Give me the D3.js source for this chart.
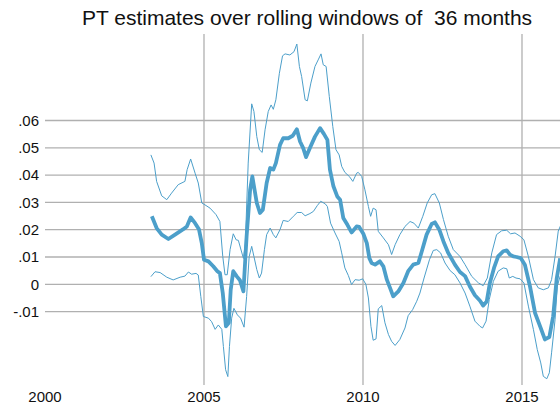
<!DOCTYPE html>
<html>
<head>
<meta charset="utf-8">
<script src="https://cdn.jsdelivr.net/npm/d3@7"></script>
<style>
    body { margin: 0; background: #fff; }
    svg { display: block; font-family: "Liberation Sans", Arial, sans-serif; }
</style>
</head>
<body>
<div id="chart"></div>
<script>
// Chart text and tick values
const titleText = "PT estimates over rolling windows of  36 months";
const xTicks = [2000, 2005, 2010, 2015];
const xGridYears = [2005, 2010, 2015];
const yTicks = [-0.01, 0, 0.01, 0.02, 0.03, 0.04, 0.05, 0.06];
const yTickLabels = ["-.01", "0", ".01", ".02", ".03", ".04", ".05", ".06"];

// Point estimate (thick line), [year, value]
const ptEstimate = [
    [2003.36, .0249], [2003.51, .0206], [2003.67, .0182], [2003.88, .0166], [2004.09, .0182],
    [2004.35, .0202], [2004.46, .0212], [2004.58, .0245], [2004.72, .0224], [2004.84, .0202],
    [2004.93, .0151], [2005.00, .0090], [2005.14, .0084], [2005.29, .0066], [2005.42, .0048],
    [2005.50, .0041], [2005.59, -.0032], [2005.69, -.0154], [2005.78, -.0141], [2005.84, -.0020],
    [2005.92, .0048], [2006.03, .0029], [2006.13, .0015], [2006.24, -.0026], [2006.34, .0176],
    [2006.45, .0346], [2006.52, .0395], [2006.66, .0298], [2006.76, .0261], [2006.85, .0273],
    [2006.97, .0371], [2007.08, .0426], [2007.18, .0420], [2007.26, .0444], [2007.39, .0511],
    [2007.49, .0535], [2007.65, .0535], [2007.79, .0544], [2007.92, .0568], [2008.02, .0523],
    [2008.12, .0499], [2008.21, .0466], [2008.33, .0499], [2008.49, .0541], [2008.65, .0572],
    [2008.77, .0551], [2008.88, .0529], [2008.96, .0420], [2009.07, .0359], [2009.19, .0322],
    [2009.28, .0310], [2009.38, .0243], [2009.51, .0218], [2009.64, .0190], [2009.80, .0212],
    [2009.88, .0210], [2010.01, .0185], [2010.12, .0151], [2010.20, .0096], [2010.27, .0078],
    [2010.38, .0072], [2010.53, .0084], [2010.64, .0066], [2010.75, .0017], [2010.85, -.0013],
    [2010.95, -.0044], [2011.11, -.0026], [2011.27, .0005], [2011.42, .0048], [2011.58, .0072],
    [2011.74, .0078], [2011.85, .0121], [2012.00, .0182], [2012.16, .0221], [2012.26, .0227],
    [2012.40, .0200], [2012.53, .0157], [2012.68, .0115], [2012.89, .0072], [2013.05, .0045],
    [2013.21, .0030], [2013.36, -.0008], [2013.52, -.0040], [2013.68, -.0060], [2013.78, -.0078],
    [2013.89, -.0063], [2013.99, .0005], [2014.12, .0060], [2014.25, .0102], [2014.41, .0121],
    [2014.52, .0124], [2014.62, .0109], [2014.73, .0102], [2014.83, .0100], [2014.96, .0096],
    [2015.09, .0072], [2015.25, -.0007], [2015.41, -.0105], [2015.57, -.0154], [2015.72, -.0202],
    [2015.86, -.0193], [2015.98, -.0117], [2016.09, .0020], [2016.20, .0095]
];

// Upper band (thin line)
const upperBand = [
    [2003.33, .0474], [2003.43, .0444], [2003.51, .0377], [2003.67, .0324], [2003.83, .0310],
    [2003.98, .0334], [2004.19, .0365], [2004.40, .0377], [2004.47, .0420], [2004.58, .0459],
    [2004.72, .0407], [2004.82, .0371], [2004.93, .0298], [2005.03, .0291], [2005.19, .0279],
    [2005.38, .0255], [2005.50, .0230], [2005.59, .0102], [2005.66, .0035], [2005.73, .0035],
    [2005.82, .0127], [2005.92, .0185], [2006.01, .0163], [2006.08, .0161], [2006.24, .0095],
    [2006.30, .0151], [2006.39, .0444], [2006.50, .0661], [2006.57, .0633], [2006.66, .0541],
    [2006.74, .0493], [2006.83, .0483], [2006.92, .0566], [2007.02, .0633], [2007.11, .0657],
    [2007.18, .0641], [2007.26, .0676], [2007.37, .0773], [2007.47, .0837], [2007.55, .0844],
    [2007.70, .0840], [2007.83, .0852], [2007.92, .0880], [2008.00, .0798], [2008.07, .0761],
    [2008.18, .0676], [2008.25, .0672], [2008.36, .0737], [2008.49, .0798], [2008.59, .0822],
    [2008.68, .0844], [2008.75, .0804], [2008.84, .0798], [2008.94, .0688], [2009.05, .0578],
    [2009.15, .0493], [2009.25, .0474], [2009.33, .0432], [2009.43, .0410], [2009.57, .0395],
    [2009.68, .0377], [2009.80, .0407], [2009.85, .0410], [2009.96, .0395], [2010.06, .0346],
    [2010.17, .0285], [2010.24, .0249], [2010.32, .0279], [2010.41, .0273], [2010.48, .0194],
    [2010.64, .0170], [2010.80, .0145], [2010.90, .0109], [2011.01, .0145], [2011.16, .0182],
    [2011.32, .0212], [2011.48, .0230], [2011.60, .0224], [2011.74, .0206], [2011.88, .0249],
    [2012.02, .0298], [2012.16, .0328], [2012.26, .0332], [2012.40, .0298], [2012.53, .0237],
    [2012.68, .0176], [2012.84, .0127], [2013.05, .0102], [2013.21, .0072], [2013.42, .0029],
    [2013.63, .0005], [2013.78, -.0005], [2013.91, .0023], [2014.05, .0115], [2014.20, .0182],
    [2014.36, .0196], [2014.52, .0198], [2014.64, .0185], [2014.78, .0188], [2014.94, .0176],
    [2015.06, .0163], [2015.20, .0102], [2015.36, .0017], [2015.51, -.0013], [2015.67, -.0020],
    [2015.83, -.0013], [2015.93, .0017], [2016.04, .0102], [2016.14, .0195], [2016.25, .0225]
];

// Lower band (thin line)
const lowerBand = [
    [2003.33, .0028], [2003.46, .0046], [2003.62, .0043], [2003.83, .0026], [2004.03, .0016],
    [2004.25, .0026], [2004.40, .0030], [2004.51, .0045], [2004.61, .0037], [2004.75, .0040],
    [2004.82, .0034], [2004.90, -.0045], [2004.98, -.0118], [2005.14, -.0124], [2005.24, -.0137],
    [2005.35, -.0165], [2005.45, -.0149], [2005.56, -.0165], [2005.61, -.0228], [2005.68, -.0313],
    [2005.75, -.0338], [2005.80, -.0228], [2005.87, -.0124], [2005.94, -.0088], [2006.05, -.0112],
    [2006.15, -.0124], [2006.26, -.0157], [2006.34, -.0045], [2006.42, .0101], [2006.50, .0139],
    [2006.57, .0102], [2006.66, .0054], [2006.74, .0023], [2006.81, .0041], [2006.90, .0127],
    [2006.97, .0182], [2007.08, .0206], [2007.18, .0182], [2007.26, .0170], [2007.39, .0200],
    [2007.49, .0234], [2007.65, .0230], [2007.81, .0249], [2007.93, .0263], [2008.07, .0263],
    [2008.18, .0251], [2008.33, .0259], [2008.44, .0267], [2008.56, .0288], [2008.67, .0304],
    [2008.81, .0295], [2008.88, .0285], [2008.98, .0224], [2009.12, .0188], [2009.25, .0157],
    [2009.33, .0115], [2009.43, .0060], [2009.54, .0032], [2009.64, -.0001], [2009.75, .0017],
    [2009.88, .0015], [2009.99, .0020], [2010.09, .0000], [2010.17, -.0050], [2010.25, -.0154],
    [2010.32, -.0205], [2010.41, -.0200], [2010.48, -.0090], [2010.59, -.0078], [2010.69, -.0141],
    [2010.80, -.0184], [2010.90, -.0209], [2011.01, -.0224], [2011.16, -.0202], [2011.32, -.0160],
    [2011.42, -.0115], [2011.56, -.0093], [2011.69, -.0062], [2011.79, -.0032], [2011.92, .0023],
    [2012.09, .0090], [2012.21, .0124], [2012.32, .0127], [2012.44, .0115], [2012.58, .0078],
    [2012.74, .0050], [2012.89, .0035], [2013.05, .0005], [2013.21, -.0032], [2013.36, -.0080],
    [2013.52, -.0135], [2013.68, -.0154], [2013.76, -.0160], [2013.87, -.0135], [2013.97, -.0056],
    [2014.10, .0011], [2014.25, .0048], [2014.41, .0060], [2014.52, .0057], [2014.60, .0023],
    [2014.71, .0029], [2014.81, .0023], [2014.94, .0020], [2015.06, .0005], [2015.20, -.0080],
    [2015.36, -.0166], [2015.48, -.0239], [2015.59, -.0288], [2015.67, -.0337], [2015.78, -.0346],
    [2015.86, -.0324], [2015.93, -.0251], [2016.04, -.0129], [2016.11, -.0007], [2016.20, .0030]
];

const width = 560, height = 409;
const lineColor = "#4c9fca";

const svg = d3.select("#chart")
    .append("svg")
    .attr("width", width)
    .attr("height", height);

svg.append("rect").attr("width", width).attr("height", height).attr("fill", "#fff");

// Scales (plot area: 2000 at x=45, 0 at y=284.3)
const x = d3.scaleLinear()
    .domain([2000, 2015])
    .range([45, 522]);
const y = d3.scaleLinear()
    .domain([-0.01, 0.06])
    .range([311.6, 120.5]);

// Horizontal grid + y labels
const yAxis = svg.append("g").attr("class", "y-grid");
yAxis.selectAll("line")
    .data(yTicks)
    .enter()
    .append("line")
    .attr("x1", 45)
    .attr("x2", width)
    .attr("y1", d => y(d))
    .attr("y2", d => y(d))
    .attr("stroke", "#b0b0b0")
    .attr("stroke-width", 1.3);
yAxis.selectAll("text")
    .data(yTicks)
    .enter()
    .append("text")
    .attr("x", 39)
    .attr("y", d => y(d))
    .attr("dy", "0.35em")
    .attr("text-anchor", "end")
    .attr("font-size", 15)
    .attr("fill", "#111")
    .text((d, i) => yTickLabels[i]);

// Vertical grid + x labels
const xAxis = svg.append("g").attr("class", "x-grid");
xAxis.selectAll("line")
    .data(xGridYears)
    .enter()
    .append("line")
    .attr("x1", d => x(d))
    .attr("x2", d => x(d))
    .attr("y1", 34)
    .attr("y2", 385)
    .attr("stroke", "#b0b0b0")
    .attr("stroke-width", 1.3);
xAxis.selectAll("text")
    .data(xTicks)
    .enter()
    .append("text")
    .attr("x", d => x(d))
    .attr("y", 402)
    .attr("text-anchor", "middle")
    .attr("font-size", 15)
    .attr("fill", "#111")
    .text(d => d);

// Lines
const line = d3.line()
    .x(d => x(d[0]))
    .y(d => y(d[1]));

svg.append("path")
    .datum(upperBand)
    .attr("fill", "none")
    .attr("stroke", lineColor)
    .attr("stroke-width", 1)
    .attr("d", line);
svg.append("path")
    .datum(lowerBand)
    .attr("fill", "none")
    .attr("stroke", lineColor)
    .attr("stroke-width", 1)
    .attr("d", line);
svg.append("path")
    .datum(ptEstimate)
    .attr("fill", "none")
    .attr("stroke", lineColor)
    .attr("stroke-width", 3.8)
    .attr("stroke-linejoin", "round")
    .attr("d", line);

// Title
svg.append("text")
    .attr("x", 307)
    .attr("y", 25)
    .attr("text-anchor", "middle")
    .attr("font-size", 21)
    .attr("fill", "#111")
    .style("white-space", "pre")
    .attr("xml:space", "preserve")
    .text(titleText);
</script>
</body>
</html>
